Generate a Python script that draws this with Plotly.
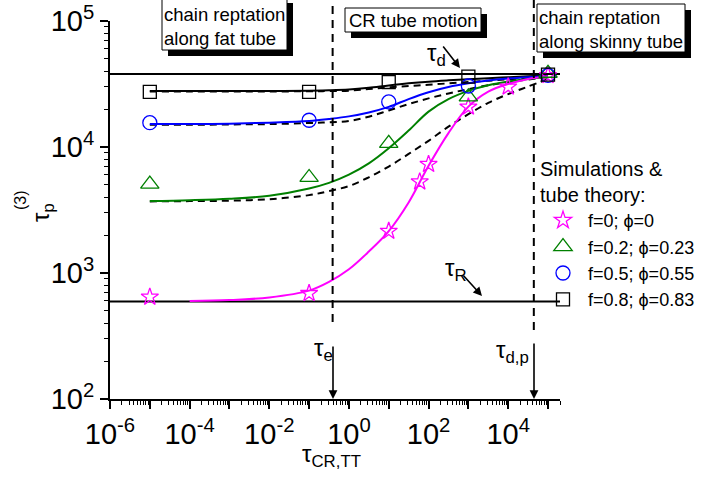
import plotly.graph_objects as go

# ---------------- data ----------------
sim_x = [1e-5, 1e-1, 1e1, 1e3, 1e5]
star_x = [1e-5, 1e-1, 1e1, 6e1, 1e2, 1e3, 1e4, 1e5]
star_y = [645, 690, 2150, 5300, 7300, 20800, 30000, 37000]
tri_y = [5070, 5730, 10700, 25000, 38500]
circ_y = [15600, 16300, 22800, 30500, 37000]
sq_y = [27400, 27400, 32800, 36200, 37500]

theory_x = [1e-5, 1e-4, 1e-3, 1e-2, 1e-1, 0.316, 1, 3.16, 10, 31.6, 100, 316, 1000, 3160, 1e4, 3.16e4, 1e5]
mag_x = [1e-4, 1e-3, 1e-2, 1e-1, 0.316, 1, 3.16, 10, 31.6, 100, 316, 1000, 3160, 1e4, 3.16e4, 1e5]
mag_solid = [600, 610, 640, 725, 850, 1070, 1480, 2150, 3630, 7100, 12900, 20900, 27500, 31600, 34700, 36500]
green_solid = [3720, 3780, 3880, 4100, 4680, 5190, 6030, 7410, 9770, 13500, 19100, 24000, 27900, 30900, 33100, 34700, 35700]
green_dashed = [3700, 3720, 3750, 3850, 4150, 4470, 4900, 5750, 7000, 8810, 11200, 14500, 18200, 22400, 26300, 30200, 34700]
blue_solid = [15200, 15200, 15300, 15600, 16100, 16700, 17500, 18800, 20800, 24000, 27200, 29900, 32000, 33700, 34900, 35800, 36500]
blue_dashed = [15000, 15000, 15100, 15200, 15500, 15700, 16100, 17400, 19500, 21900, 24300, 26600, 28800, 30900, 32700, 34300, 36000]
sq_solid = [27800, 27800, 27800, 27800, 28000, 28200, 28600, 29500, 30800, 32000, 33000, 33800, 34500, 35200, 35800, 36400, 37000]
sq_dashed = [27600, 27600, 27600, 27600, 27700, 27800, 28000, 28800, 29700, 30500, 31200, 32000, 32800, 33600, 34500, 35400, 36500]

tau_d = 38000
tau_R = 595
tau_e = 0.39
tau_dp = 4.4e4
x_span = [1e-6, 2e5]

legend_names = ["f=0; \u03d5=0", "f=0.2; \u03d5=0.23", "f=0.5; \u03d5=0.55", "f=0.8; \u03d5=0.83"]
x_tick_exp = list(range(-6, 6))
y_tick_exp = [2, 3, 4, 5]

FONT = "Liberation Sans, Arial, sans-serif"
MAG = "#FF00FF"
GRN = "#008000"
BLU = "#0000FF"

fig = go.Figure()

def line(x, y, color, dash=None, width=2):
    fig.add_trace(go.Scatter(x=x, y=y, mode="lines", showlegend=False,
                             line=dict(color=color, width=width, dash=dash, shape="spline", smoothing=1.0),
                             hoverinfo="skip"))

line(x_span, [tau_d, tau_d], "black")
line(x_span, [tau_R, tau_R], "black")
line(theory_x, sq_dashed, "black", "7px,5px")
line(theory_x, sq_solid, "black")
line(theory_x, blue_dashed, "black", "7px,5px")
line(theory_x, blue_solid, BLU)
line(theory_x, green_dashed, "black", "7px,5px")
line(theory_x, green_solid, GRN)
line(mag_x, mag_solid, MAG)

def pts(x, y, sym, color, size, name):
    fig.add_trace(go.Scatter(x=x, y=y, mode="markers", name=name,
                             marker=dict(symbol=sym, size=size, color=color,
                                         line=dict(color=color, width=1.3))))

pts(star_x, star_y, "star-open", MAG, 13, legend_names[0])
pts(sim_x, tri_y, "triangle-up-open", GRN, 16, legend_names[1])
pts(sim_x, circ_y, "circle-open", BLU, 14, legend_names[2])
pts(sim_x, sq_y, "square-open", "black", 13, legend_names[3])

# layout positions measured in window pixels
L, T, W, H = 110, 21, 450, 378
FW, FH = 710, 477
def px(x):
    return (x - L) / W
def py(y):
    return (T + H - y) / H

shapes = []
for xv, ybot in [(tau_e, 322), (tau_dp, 330)]:
    shapes.append(dict(type="line", xref="x", yref="paper", x0=xv, x1=xv, y0=py(ybot), y1=py(0),
                       line=dict(color="black", width=2, dash="8px,6px")))
boxes = [(162, -3, 287, 50), (345, 8, 481, 32), (537, 4, 685, 52)]
for (x0, y0, x1, y1) in boxes:
    shapes.append(dict(type="rect", xref="paper", yref="paper", x0=px(x0 + 6), x1=px(x1 + 6),
                       y0=py(y1 + 6), y1=py(y0 + 6), fillcolor="black", line=dict(width=0), layer="above"))
    shapes.append(dict(type="rect", xref="paper", yref="paper", x0=px(x0), x1=px(x1),
                       y0=py(y1), y1=py(y0), fillcolor="white",
                       line=dict(color="black", width=1), layer="above"))

ann = []
def text(x, y, s, size=24, angle=0, align="center"):
    ann.append(dict(x=px(x), y=py(y), xref="paper", yref="paper", text=s, showarrow=False,
                    xanchor="center", yanchor="middle", textangle=angle, align=align,
                    font=dict(family=FONT, size=size, color="black")))

def arrow(xh, yh, dx, dy):
    ann.append(dict(x=px(xh), y=py(yh), xref="paper", yref="paper", text="", showarrow=True,
                    ax=dx, ay=dy, arrowhead=2, arrowsize=1.1, arrowwidth=1.6, arrowcolor="black"))

text(224, 26, "chain reptation<br>along fat tube", 18.5, align="left")
text(413, 20, "CR tube motion", 18.5)
text(611, 29, "chain reptation<br>along skinny tube", 18.5, align="left")

text(436, 54, "\u03c4<sub>d</sub>")
text(456, 269, "\u03c4<sub>R</sub>")
text(323, 349, "\u03c4<sub>e</sub>")
text(512, 351, "\u03c4<sub>d,p</sub>")
arrow(460, 68, -18, -23)
arrow(482, 296, -20, -22)
arrow(333, 399, 0, -54)
arrow(534, 399, 0, -57)

text(331, 455, "\u03c4<sub>CR,TT</sub>")
text(42, 213, "\u03c4<sub>p</sub>", 24, angle=-90)
text(21, 200, "(3)", 16, angle=-90)

x_ticktext = [("10<sup>%d</sup>" % e) if e % 2 == 0 else "" for e in x_tick_exp]
y_ticktext = ["10<sup>%d</sup>" % e for e in y_tick_exp]
minor_x = [m * 10 ** e for e in range(-6, 6) for m in range(2, 10) if m * 10 ** e <= 2e5]
minor_y = [m * 10 ** e for e in range(2, 5) for m in range(2, 10)]

fig.update_layout(
    width=FW, height=FH,
    margin=dict(l=L, r=FW - L - W, t=T, b=FH - T - H, autoexpand=False),
    paper_bgcolor="white", plot_bgcolor="white",
    font=dict(family=FONT, color="black"),
    shapes=shapes, annotations=ann,
    showlegend=True,
    legend=dict(x=px(538), y=py(150), xanchor="left", yanchor="top",
                bgcolor="rgba(0,0,0,0)", font=dict(family=FONT, size=18),
                title=dict(text="Simulations &<br>tube theory:", font=dict(family=FONT, size=20)),
                itemwidth=40, tracegroupgap=0),
    xaxis=dict(type="log", range=[-6, 5.30103], showgrid=False, zeroline=False,
               showline=True, linecolor="black", linewidth=2, mirror=False,
               ticks="outside", ticklen=8, tickwidth=1.5, tickcolor="black",
               tickmode="array", tickvals=[10.0 ** e for e in x_tick_exp], ticktext=x_ticktext,
               tickfont=dict(family=FONT, size=29), ticklabeloverflow="allow",
               minor=dict(tickmode="array", tickvals=minor_x, ticks="outside", ticklen=4,
                          tickwidth=1.2, tickcolor="black", showgrid=False)),
    yaxis=dict(type="log", range=[2, 5], showgrid=False, zeroline=False,
               showline=True, linecolor="black", linewidth=2, mirror=False,
               ticks="outside", ticklen=8, tickwidth=1.5, tickcolor="black",
               tickmode="array", tickvals=[10.0 ** e for e in y_tick_exp], ticktext=y_ticktext,
               tickfont=dict(family=FONT, size=29), ticklabeloverflow="allow",
               minor=dict(tickmode="array", tickvals=minor_y, ticks="outside", ticklen=4,
                          tickwidth=1.2, tickcolor="black", showgrid=False)),
)

fig.write_html("out.html", config={"displayModeBar": False},
               post_script="document.body.style.margin='0';document.body.style.overflow='hidden';")
